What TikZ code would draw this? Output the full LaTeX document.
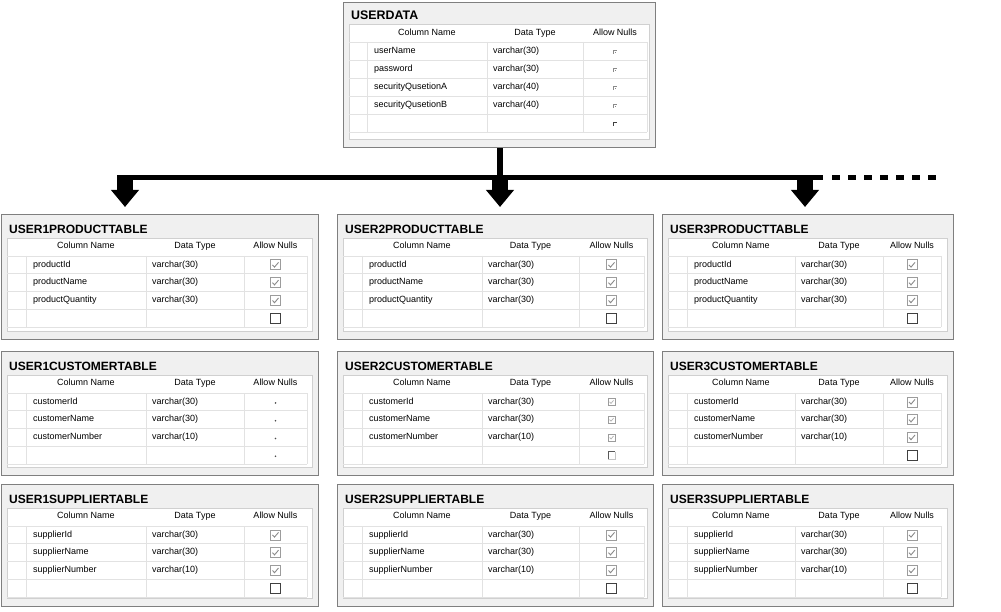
\documentclass[tikz,border=0pt]{standalone}
\usepackage{fontspec}
\setmainfont{Liberation Sans}
\usetikzlibrary{arrows.meta}

\definecolor{frame}{HTML}{7F7F7F}
\definecolor{panelgray}{HTML}{F0F0F0}
\definecolor{gridline}{HTML}{E2E2E2}
\definecolor{panelline}{HTML}{D0D0D0}
\definecolor{boxgray}{HTML}{9C9C9C}
\definecolor{tickgray}{HTML}{8A8A8A}

\tikzset{
  tablebody/.style={rectangle, draw=frame, fill=panelgray, line width=1.3pt, inner sep=0pt},
  tabletitle/.style={font=\fontsize{12}{14}\selectfont\bfseries, inner sep=0pt, anchor=west},
  headtext/.style={font=\fontsize{9}{10}\selectfont, inner sep=0pt, text height=6.5pt, text depth=2pt},
  celltext/.style={font=\fontsize{9}{10}\selectfont, inner sep=0pt, anchor=west, text height=6.5pt, text depth=2pt},
  gridrule/.style={draw=gridline, line width=0.9pt},
  panel/.style={fill=white, draw=panelline, line width=0.8pt},
  stem/.style={line width=6pt},
  bar/.style={line width=5.3pt},
  feed/.style={line width=16pt, -{Triangle[width=27pt,length=17pt]}, shorten >=7pt},
  pics/ticked/.style={code={
    \draw[boxgray, line width=0.8pt, fill=white] (-5,-5) rectangle (5,5);
    \draw[tickgray, line width=0.9pt] (-3,0) -- (-1,2.2) -- (3,-2.5);}},
  pics/clearbox/.style={code={
    \draw[black!75, line width=0.9pt, fill=white] (-5,-5) rectangle (5,5);}},
  pics/corner/.style={code={
    \draw[tickgray, line width=0.9pt] (-1.5,3) -- (-1.5,-1) -- (2,-1);
    \fill[tickgray] (0.3,1) rectangle (1.3,2);}},
  pics/cornerclear/.style={code={
    \draw[black!75, line width=0.9pt] (-1.5,3) -- (-1.5,-1) -- (2,-1);}},
  pics/speck/.style={code={\fill[black!70] (0,1) circle (0.9);}},
  pics/smallticked/.style={code={
    \draw[boxgray, line width=0.7pt, fill=white] (-3.5,-3.5) rectangle (3.5,3.5);
    \draw[boxgray!80, line width=0.7pt] (-2,0) -- (-0.5,1.5) -- (2,-1.5);}},
  pics/smallclear/.style={code={
    \draw[boxgray!60, line width=0.6pt] (3.5,-3.5) -- (3.5,3.5) -- (-3.5,3.5);
    \draw[black!65, line width=0.8pt] (-3.5,3.5) -- (-3.5,-3.5) -- (3.5,-3.5);}},
}

% column offsets: panel left, selector edge, name|type, type|nulls, grid right, panel right
\newcommand\tbllayout[6]{\def\tcA{#1}\def\tcB{#2}\def\tcC{#3}\def\tcD{#4}\def\tcE{#5}\def\tcF{#6}}
% vertical offsets: title, header, first row, row height, data rows
\newcommand\tblrows[5]{\def\ttitley{#1}\def\thdy{#2}\def\trowy{#3}\def\trowh{#4}\def\tnrows{#5}}

% #1 name, #2 left, #3 top, #4 width, #5 height, #6 title, #7 rows, #8 mark, #9 blank-row mark
\newcommand\dbtable[9]{%
  \node[tablebody, minimum width=#4pt, minimum height=#5pt, anchor=north west] (#1) at (#2,#3) {};
  \node[tabletitle] (#1-title) at (#2+8,#3+\ttitley) {#6};
  \draw[panel] (#2+\tcA,#3+\ttitley+9) rectangle (#2+\tcF,#3+#5-8);
  \node[headtext] (#1-h1) at ({#2+(\tcB+\tcC)/2},#3+\thdy) {Column Name};
  \node[headtext] (#1-h2) at ({#2+(\tcC+\tcD)/2},#3+\thdy) {Data Type};
  \node[headtext] (#1-h3) at ({#2+(\tcD+\tcE)/2},#3+\thdy) {Allow Nulls};
  \pgfmathtruncatemacro\ttot{\tnrows+1}
  \foreach \k in {0,...,\ttot}
    \draw[gridrule] (#2+\tcA,#3+\trowy+\k*\trowh) -- (#2+\tcE,#3+\trowy+\k*\trowh);
  \foreach \c in {\tcB,\tcC,\tcD,\tcE}
    \draw[gridrule] (#2+\c,#3+\trowy) -- (#2+\c,#3+\trowy+\ttot*\trowh);
  \foreach \nm/\ty [count=\i] in {#7} {
    \pgfmathsetmacro\yc{#3+\trowy+(\i-0.5)*\trowh}
    \node[celltext] (#1-n\i) at (#2+\tcB+7,\yc) {\nm};
    \node[celltext] (#1-t\i) at (#2+\tcC+6,\yc) {\ty};
    \pic at ({#2+(\tcD+\tcE)/2},\yc) {#8};
  }
  \pgfmathsetmacro\yc{#3+\trowy+(\ttot-0.5)*\trowh}
  \pic at ({#2+(\tcD+\tcE)/2},\yc) {#9};
}

\begin{document}
\begin{tikzpicture}[x=1pt,y=-1pt]
\useasboundingbox (0,0) rectangle (1001,612);

% master table
\tbllayout{6}{24}{144}{240}{304}{306}
\tblrows{13}{31}{40}{18}{4}
\dbtable{userdata}{343}{2}{312}{145}{\fontsize{12.4}{14}\selectfont USERDATA}
  {userName/varchar(30), password/varchar(30), securityQusetionA/varchar(40), securityQusetionB/varchar(40)}
  {corner}{cornerclear}

% first column
\tbllayout{6}{25}{145}{243}{306}{311}
\tblrows{15}{32}{42}{17.8}{3}
\dbtable{p1}{1}{214}{317}{125}{USER1PRODUCTTABLE}
  {productId/varchar(30), productName/varchar(30), productQuantity/varchar(30)}{ticked}{clearbox}
\dbtable{c1}{1}{351}{317}{124}{USER1CUSTOMERTABLE}
  {customerId/varchar(30), customerName/varchar(30), customerNumber/varchar(10)}{speck}{speck}
\dbtable{s1}{1}{484}{317}{122}{USER1SUPPLIERTABLE}
  {supplierId/varchar(30), supplierName/varchar(30), supplierNumber/varchar(10)}{ticked}{clearbox}

% second column
\tbllayout{6}{25}{145}{242}{307}{310}
\dbtable{p2}{337}{214}{316}{125}{USER2PRODUCTTABLE}
  {productId/varchar(30), productName/varchar(30), productQuantity/varchar(30)}{ticked}{clearbox}
\dbtable{c2}{337}{351}{316}{124}{USER2CUSTOMERTABLE}
  {customerId/varchar(30), customerName/varchar(30), customerNumber/varchar(10)}{smallticked}{smallclear}
\dbtable{s2}{337}{484}{316}{122}{USER2SUPPLIERTABLE}
  {supplierId/varchar(30), supplierName/varchar(30), supplierNumber/varchar(10)}{ticked}{clearbox}

% third column
\tbllayout{6}{25}{133}{221}{279}{285}
\dbtable{p3}{662}{214}{291}{125}{USER3PRODUCTTABLE}
  {productId/varchar(30), productName/varchar(30), productQuantity/varchar(30)}{ticked}{clearbox}
\dbtable{c3}{662}{351}{291}{124}{USER3CUSTOMERTABLE}
  {customerId/varchar(30), customerName/varchar(30), customerNumber/varchar(10)}{ticked}{clearbox}
\dbtable{s3}{662}{484}{291}{122}{USER3SUPPLIERTABLE}
  {supplierId/varchar(30), supplierName/varchar(30), supplierNumber/varchar(10)}{ticked}{clearbox}

% distribution bar with its drops
\coordinate (drop1) at (125,177.5);
\coordinate (drop2) at (500,177.5);
\coordinate (drop3) at (805,177.5);
\coordinate (barend) at (823,177.5);
\coordinate (dashstart) at (832,177.5);
\coordinate (dashend) at (936,177.5);

\draw[stem] (userdata.south) -- (userdata.south |- drop2);
\draw[bar] ([xshift=-8pt]drop1) -- (barend);
\draw[bar, dash pattern=on 8pt off 8pt] (dashstart) -- (dashend);
\foreach \d/\t in {drop1/p1, drop2/p2, drop3/p3}
  \draw[feed] (\d) -- (\d |- \t.north);
\end{tikzpicture}
\end{document}
